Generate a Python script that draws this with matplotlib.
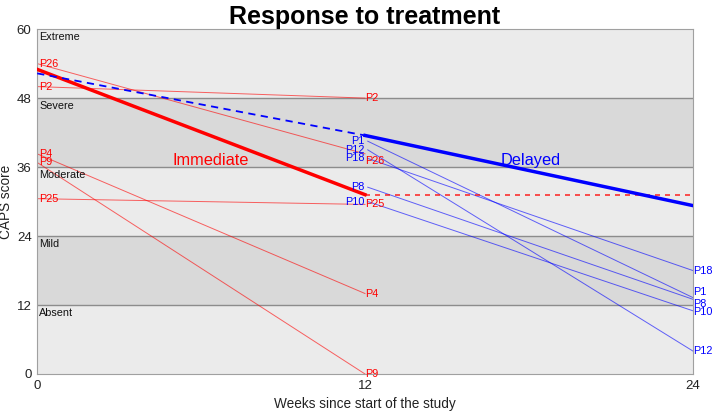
import numpy as np
import matplotlib.pyplot as plt

plt.rcParams['font.family'] = ['Liberation Sans', 'DejaVu Sans']

# ---- datos ----
severidad = ['Absent', 'Mild', 'Moderate', 'Severe', 'Extreme']
cortes = [0, 12, 24, 36, 48, 60]

# grupo inmediato: semana 0 -> semana 12
inm_ids = ['P26', 'P2', 'P4', 'P9', 'P25']
inm_w0 = [54, 50, 38.3, 36.8, 30.5]
inm_w12 = [38.3, 48, 14, 0, 29.5]

# grupo diferido: semana 12 -> semana 24
dif_ids = ['P1', 'P12', 'P18', 'P8', 'P10']
dif_w12 = [40.5, 39, 37.5, 32.5, 30]
dif_w24 = [13.3, 4, 18, 13, 11]

# tendencias del modelo
sem = [0, 12, 24]
inm_fit = [53, 31.2, 31.2]
dif_fit = [52.3, 41.5, 29.3]

# pequeños desplazamientos de etiquetas para que no se pisen
ajuste = {('P26', 12): -1.2, ('P1', 24): 0.9, ('P8', 24): -0.8, ('P10', 24): -0.3}

rojo = '#ff0000'
azul = '#0000ff'
fs_pac = 7.8

fig, ax = plt.subplots(figsize=(7.15, 4.16), dpi=100)
fig.subplots_adjust(left=0.052, right=0.969, bottom=0.101, top=0.930)

# bandas de severidad
for i, nombre in enumerate(severidad):
    color = '#ebebeb' if i % 2 == 0 else '#d9d9d9'
    ax.axhspan(cortes[i], cortes[i + 1], color=color, zorder=0, lw=0)
    ax.text(0.08, cortes[i + 1] - 0.5, nombre, fontsize=7.8, va='top', ha='left',
            color='#111111', zorder=3)
for c in cortes[1:-1]:
    ax.axhline(c, color='#8c8c8c', lw=1, zorder=1)

# pacientes inmediatos
for pid, a, b in zip(inm_ids, inm_w0, inm_w12):
    ax.plot([0, 12], [a, b], color=rojo, lw=0.7, alpha=0.6, zorder=2)
    ax.text(0.08, a + ajuste.get((pid, 0), 0), pid, color=rojo, fontsize=fs_pac,
            va='center', ha='left', zorder=4)
    ax.text(12.02, b + ajuste.get((pid, 12), 0), pid, color=rojo, fontsize=fs_pac,
            va='center', ha='left', zorder=4)

# pacientes diferidos
for pid, a, b in zip(dif_ids, dif_w12, dif_w24):
    ax.plot([12.1, 24], [a, b], color=azul, lw=0.7, alpha=0.6, zorder=2)
    ax.text(11.98, a + ajuste.get((pid, 12), 0), pid, color=azul, fontsize=fs_pac,
            va='center', ha='right', zorder=4)
    ax.text(24.02, b + ajuste.get((pid, 24), 0), pid, color=azul, fontsize=fs_pac,
            va='center', ha='left', zorder=4, clip_on=False)

# tendencias
ax.plot(sem[:2], inm_fit[:2], color=rojo, lw=2.5, zorder=3)
ax.plot(sem[1:], inm_fit[1:], color=rojo, lw=1.2, ls=(0, (3, 3)), alpha=0.8, zorder=3)
ax.plot(sem[:2], dif_fit[:2], color=azul, lw=1.3, ls=(0, (4, 3)), zorder=3)
ax.plot(sem[1:], dif_fit[1:], color=azul, lw=2.5, zorder=3)

ax.text(6.35, 37.2, 'Immediate', color=rojo, fontsize=11.8, ha='center', va='center')
ax.text(18.05, 37.2, 'Delayed', color=azul, fontsize=11.8, ha='center', va='center')

ax.set_xlim(0, 24)
ax.set_ylim(0, 60)
ax.set_xticks([0, 12, 24])
ax.set_yticks(cortes)
ax.tick_params(length=0, labelsize=9.5, colors='#222222', pad=4)
for s in ax.spines.values():
    s.set_color('#a0a0a0')
ax.set_xlabel('Weeks since start of the study', fontsize=9.8, color='#222222', labelpad=4)
ax.set_ylabel('CAPS score', fontsize=9.8, color='#222222', labelpad=3)
ax.set_title('Response to treatment', fontsize=18, fontweight='bold',
             family=['Liberation Sans Narrow', 'Liberation Sans'], pad=4)

fig.savefig('out.png', dpi=100)
